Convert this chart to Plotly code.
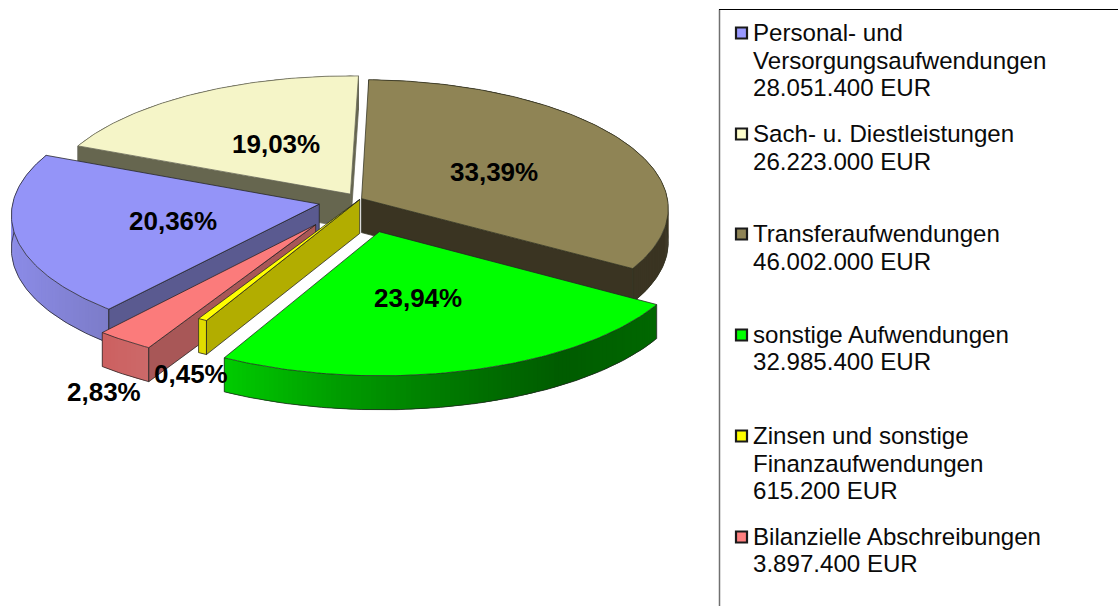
import numpy as np
import plotly.graph_objects as go

# ---- data ----
categories = [
    ["Personal- und", "Versorgungsaufwendungen"],
    ["Sach- u. Diestleistungen"],
    ["Transferaufwendungen"],
    ["sonstige Aufwendungen"],
    ["Zinsen und sonstige", "Finanzaufwendungen"],
    ["Bilanzielle Abschreibungen"],
]
values_eur = [28051400, 26223000, 46002000, 32985400, 615200, 3897400]

# ---- styles ----
top_colors = ["#9494F8", "#F5F5C8", "#8F8455", "#00FF00", "#FFFF00", "#FB7B7B"]
key_colors = ["#9999FF", "#FFFFCC", "#8F8456", "#00FF00", "#FFFF00", "#FF8080"]
radial_colors = ["#5A5A90", "#66664F", "#3A3422", "#007000", "#B2AD00", "#A85757"]
edge_colors = ["#222222", "#666655", "#333322", "#222222", "#222222", "#222222"]
explode = [0.135, 0.055, 0.015, 0.26, -0.005, 0.24]
nudge = [(1.5, 1.0), (1.5, 1.0), (-0.5, 0.5), (0, 0), (1.0, 1.0), (0, 0)]
arc_stops = [
    [(10, "#8C8CE8"), (110, "#7C7CC8")],
    [(0, "#66664F"), (400, "#66664F")],
    [(360, "#3A3422"), (670, "#3A3422")],
    [(224, "#00CC00"), (340, "#009C00"), (480, "#007000"), (560, "#005C00"), (656, "#006800")],
    [(190, "#E0DC00"), (210, "#E0DC00")],
    [(100, "#CC6060"), (150, "#CC6A6A")],
]
draw_order = [1, 0, 5, 4, 2, 3]
label_xy = [(173, 221), (276, 144), (494, 172), (418, 298), (191, 374), (104, 392)]
legend_line_y = [[32, 60, 87], [133, 161], [233, 261], [334, 361], [435, 463, 490], [536, 563]]

CX, CY, SX, SY, K, DEPTH = 358.0, 199.0, 306.0, 128.0, 0.0754, 34.0
START_DEG = 1.5
CLOCKWISE_ORDER = [2, 3, 4, 5, 0, 1]
FONT = "Liberation Sans"

total = sum(values_eur)
shares = [v / total for v in values_eur]
spans = {}
a = START_DEG
for i in CLOCKWISE_ORDER:
    spans[i] = (a, a + shares[i] * 360)
    a += shares[i] * 360


def proj(X, Y, dz=0.0, off=(0, 0)):
    w = 1 + K * Y
    return CX + off[0] + SX * X / w, CY + off[1] - SY * Y / w + dz


def rgb(h):
    return [int(h[j:j + 2], 16) for j in (1, 3, 5)]


fig = go.Figure()


def poly(xs, ys, fill, line=None, width=0.75):
    fig.add_trace(go.Scatter(
        x=list(xs) + [xs[0]], y=list(ys) + [ys[0]], mode="lines" if line else "none", fill="toself",
        fillcolor=fill, line=dict(color=line or fill, width=width),
        hoverinfo="skip", showlegend=False))


def outline(xs, ys, color="#111111", width=0.75):
    fig.add_trace(go.Scatter(x=list(xs), y=list(ys), mode="lines", line=dict(color=color, width=width),
                             hoverinfo="skip", showlegend=False))


for i in draw_order:
    t0, t1 = spans[i]
    off = nudge[i]
    mid = np.radians((t0 + t1) / 2)
    ax, ay = explode[i] * np.sin(mid), explode[i] * np.cos(mid)
    th = np.radians(np.linspace(t0, t1, max(6, int((t1 - t0) * 1.2))))
    X = ax + np.sin(th)
    Y = ay + np.cos(th)
    px, py = proj(X, Y, off=off)
    pxb, pyb = proj(X, Y, DEPTH, off=off)
    apx, apy = proj(ax, ay, off=off)

    # outer wall with horizontal shading; each band overlaps the next so no seams show
    sx = [p[0] for p in arc_stops[i]]
    cols = np.array([rgb(p[1]) for p in arc_stops[i]], dtype=float)
    for j in range(len(th) - 1):
        e = min(j + 2, len(th) - 1)
        xm = (px[j] + px[j + 1]) / 2
        c = [int(np.interp(xm, sx, cols[:, n])) for n in range(3)]
        col = f"rgb({c[0]},{c[1]},{c[2]})"
        poly([px[j], px[j + 1], px[e], pxb[e], pxb[j + 1], pxb[j]],
             [py[j], py[j + 1], py[e], pyb[e], pyb[j + 1], pyb[j]], col)
    outline(pxb, pyb, edge_colors[i])
    outline([px[0], pxb[0]], [py[0], pyb[0]], edge_colors[i])
    outline([px[-1], pxb[-1]], [py[-1], pyb[-1]], edge_colors[i])

    # radial walls facing the viewer
    for ang, is_start in ((t0, True), (t1, False)):
        s = np.sin(np.radians(ang))
        if (is_start and s < 0) or (not is_start and s > 0):
            ex, ey = proj(ax + np.sin(np.radians(ang)), ay + np.cos(np.radians(ang)), off=off)
            poly([apx, ex, ex, apx], [apy, ey, ey + DEPTH, apy + DEPTH], radial_colors[i], edge_colors[i])

    # top face
    poly([apx] + list(px), [apy] + list(py), top_colors[i], edge_colors[i])

# percentage labels
for i, (lx, ly) in enumerate(label_xy):
    label = f"{shares[i] * 100:.2f}%".replace(".", ",")
    fig.add_annotation(x=lx, y=ly, text=f"<b>{label}</b>", showarrow=False,
                       font=dict(family=FONT, size=26, color="black"), xanchor="center", yanchor="middle",
                       xref="x", yref="y", borderpad=0)

# legend frame, open at right and bottom
outline([719.5, 719.5], [606, 9.5], color="#707070", width=1.5)
outline([719, 1118], [9.5, 9.5], color="#000000", width=1)

# legend keys and text
fig.add_trace(go.Scatter(
    x=[741.5] * 6, y=[ys[0] + 1 for ys in legend_line_y], mode="markers",
    marker=dict(symbol="square", size=11, color=key_colors, line=dict(color="#1A1A1A", width=2.2)),
    hoverinfo="skip", showlegend=False))
for i, ys in enumerate(legend_line_y):
    amount = f"{values_eur[i]:,}".replace(",", ".") + " EUR"
    for txt, y in zip(categories[i] + [amount], ys):
        fig.add_annotation(x=752, y=y, text=txt, showarrow=False, xanchor="left", yanchor="middle",
                           font=dict(family=FONT, size=24.1, color="#0A0A0A"), xref="x", yref="y", borderpad=0)

fig.update_layout(
    width=1118, height=606, margin=dict(l=0, r=0, t=0, b=0), paper_bgcolor="white", plot_bgcolor="white",
    showlegend=False,
    xaxis=dict(range=[0, 1118], visible=False, fixedrange=True),
    yaxis=dict(range=[606, 0], visible=False, fixedrange=True),
)
fig.write_html("out.html", config={"displayModeBar": False},
               post_script="document.body.style.margin='0';document.body.style.overflow='hidden';")
